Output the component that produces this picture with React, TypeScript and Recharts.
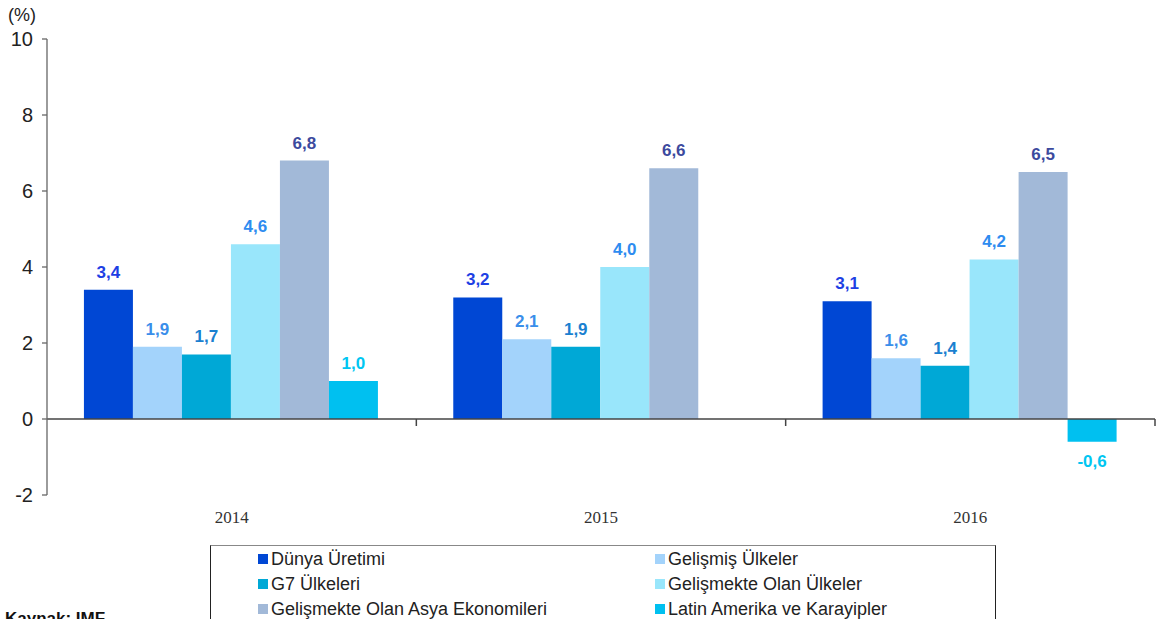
import React from "react";
import { BarChart, Bar, XAxis, YAxis, ReferenceLine, LabelList } from "recharts";

const years = ["2014", "2015", "2016"];
const dunya = [3.4, 3.2, 3.1];
const gelismis = [1.9, 2.1, 1.6];
const g7 = [1.7, 1.9, 1.4];
const gelismekte = [4.6, 4.0, 4.2];
const asya = [6.8, 6.6, 6.5];
const latin = [1.0, 0.0, -0.6];
const yTicks = [-2, 0, 2, 4, 6, 8, 10];
const yMin = -2;
const yMax = 10;

const series = [
  { key: "dunya", name: "Dünya Üretimi", values: dunya, color: "#0047D4", label: "#1E3FE4" },
  { key: "gelismis", name: "Gelişmiş Ülkeler", values: gelismis, color: "#A3D3FB", label: "#3A8EEA" },
  { key: "g7", name: "G7 Ülkeleri", values: g7, color: "#00A8D6", label: "#1A80D0" },
  { key: "gelismekte", name: "Gelişmekte Olan Ülkeler", values: gelismekte, color: "#99E6FB", label: "#2E8CF0" },
  { key: "asya", name: "Gelişmekte Olan Asya Ekonomileri", values: asya, color: "#A2B9D8", label: "#3C4A9E" },
  { key: "latin", name: "Latin Amerika ve Karayipler", values: latin, color: "#00C0F0", label: "#00C6F2" },
];

const data = years.map((y, i) => {
  const row: any = { year: y };
  series.forEach((s) => (row[s.key] = s.values[i]));
  return row;
});

const fmt = (v: number) => v.toFixed(1).replace(".", ",");

const makeLabel = (color: string) => (props: any) => {
  const { x, y, width, height, value } = props;
  const top = Math.min(y, y + height);
  const bottom = Math.max(y, y + height);
  const cx = x + width / 2;
  const ty = value < 0 ? bottom + 25 : top - 12;
  return (
    <text x={cx} y={ty} textAnchor="middle" fill={color} fontFamily="Arial, Liberation Sans, sans-serif" fontWeight="bold" fontSize={17}>
      {fmt(value)}
    </text>
  );
};

const XTick = (props: any) => {
  const { x, y, payload } = props;
  return (
    <text x={x} y={y + 28} textAnchor="middle" fill="#333" fontFamily="Times New Roman, Liberation Serif, serif" fontSize={17}>
      {payload.value}
    </text>
  );
};

const BoundaryTick = (props: any) => {
  const { x1, y1, y2 } = props;
  const top = Math.min(y1, y2);
  const bottom = Math.max(y1, y2);
  const zero = top + ((yMax - 0) / (yMax - yMin)) * (bottom - top);
  return <line x1={x1} x2={x1} y1={zero} y2={zero + 7} stroke="#444" strokeWidth={1.5} />;
};

export default function App() {
  const legendRows = [
    [series[0], series[1]],
    [series[2], series[3]],
    [series[4], series[5]],
  ];
  return (
    <div style={{ position: "absolute", left: 0, top: 0, width: 1158, height: 619, overflow: "hidden", background: "#fff", fontFamily: "Arial, Liberation Sans, sans-serif" }}>
      <div style={{ position: "absolute", left: 8, top: 5, fontSize: 18, color: "#222" }}>(%)</div>
      <BarChart width={1158} height={619} data={data} margin={{ top: 39, right: 3, left: 0, bottom: 94 }} barCategoryGap="10%" barGap={0}>
        <XAxis dataKey="year" axisLine={false} tickLine={false} tickSize={0} tickMargin={0} height={30} tick={<XTick />} />
        <YAxis
          domain={[yMin, yMax]}
          ticks={yTicks}
          interval={0}
          width={47}
          axisLine={{ stroke: "#666", strokeWidth: 1.3 }}
          tickLine={{ stroke: "#666", strokeWidth: 1.3 }}
          tickSize={5}
          tickMargin={9}
          tick={{ fill: "#222", fontSize: 20, fontFamily: "Arial, Liberation Sans, sans-serif" }}
        />
        {series.map((s) => (
          <Bar key={s.key} dataKey={s.key} fill={s.color} isAnimationActive={false}>
            <LabelList dataKey={s.key} content={makeLabel(s.label)} />
          </Bar>
        ))}
        <ReferenceLine y={0} stroke="#444" strokeWidth={1.5} />
        {years.map((yr) => (
          <ReferenceLine key={yr} x={yr} position="end" shape={<BoundaryTick />} />
        ))}
      </BarChart>
      <div style={{ position: "absolute", left: 210, top: 545, width: 784, height: 90, borderLeft: "1.5px solid #222", borderTop: "1.5px solid #888", borderRight: "1.5px solid #222" }}>
        {legendRows.map((row, ri) => (
          <div key={ri} style={{ position: "absolute", top: 1 + ri * 25, left: 0, width: "100%", height: 25 }}>
            {row.map((s, ci) => (
              <div key={s.key} style={{ position: "absolute", left: ci === 0 ? 47 : 444, top: 0, display: "flex", alignItems: "center", height: 24, fontSize: 18, color: "#222", whiteSpace: "nowrap" }}>
                <span style={{ display: "inline-block", width: 10, height: 10, background: s.color, marginRight: 3 }} />
                {s.name}
              </div>
            ))}
          </div>
        ))}
      </div>
      <div style={{ position: "absolute", left: 5, top: 609, fontSize: 17, fontWeight: "bold", color: "#111" }}>Kaynak: IMF</div>
    </div>
  );
}
